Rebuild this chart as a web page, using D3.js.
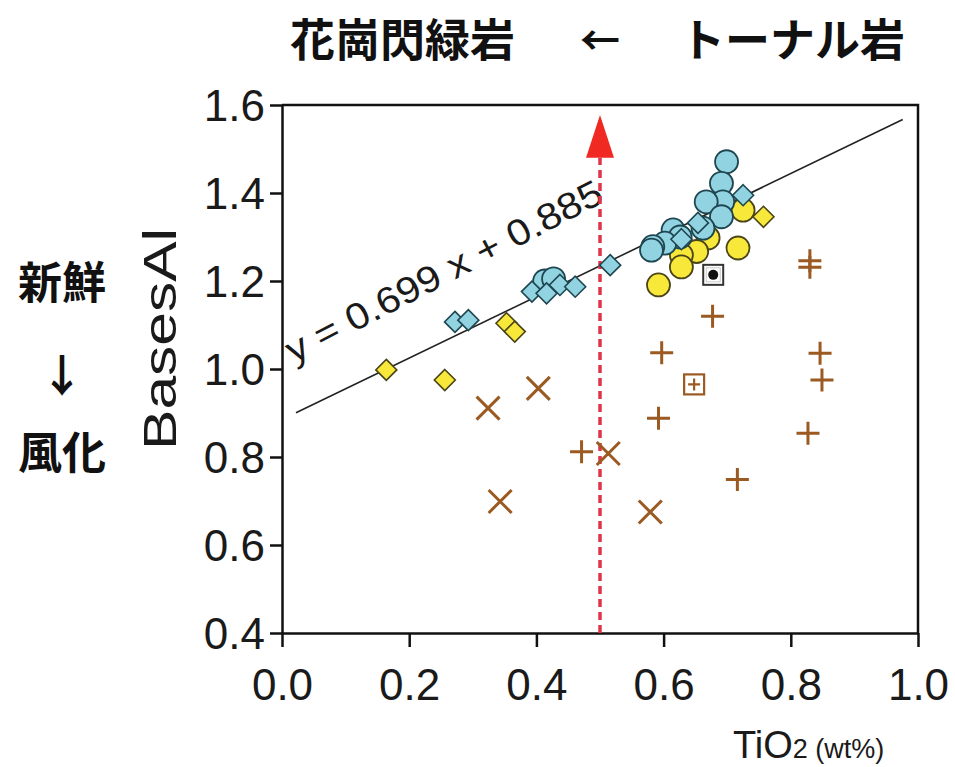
<!DOCTYPE html>
<html>
<head>
<meta charset="utf-8">
<script src="https://cdn.jsdelivr.net/npm/d3@7"></script>
<style>
    body { margin: 0; background: #fff; }
    svg text { font-family: "Liberation Sans", Arial, sans-serif; }
    .jp { font-family: "Noto Sans CJK JP", sans-serif; font-weight: bold; }
</style>
</head>
<body>
<div class="chart"></div>
<script>
// TiO2 (wt%) vs BasesAl
const blueCircles = [
    [0.699, 1.471], [0.691, 1.422], [0.693, 1.380], [0.667, 1.380], [0.691, 1.346],
    [0.662, 1.320], [0.615, 1.316], [0.626, 1.300], [0.602, 1.286], [0.583, 1.278],
    [0.581, 1.270], [0.413, 1.200], [0.427, 1.205]
];
const blueDiamonds = [
    [0.725, 1.395], [0.654, 1.332], [0.628, 1.295], [0.516, 1.236], [0.272, 1.107],
    [0.293, 1.111], [0.393, 1.176], [0.416, 1.172], [0.437, 1.191], [0.461, 1.187]
];
const yellowCircles = [
    [0.725, 1.361], [0.670, 1.298], [0.652, 1.267], [0.628, 1.259], [0.628, 1.232],
    [0.717, 1.275], [0.592, 1.191]
];
const yellowDiamonds = [
    [0.757, 1.346], [0.353, 1.104], [0.366, 1.085], [0.164, 0.998], [0.256, 0.975]
];
const crosses = [
    [0.324, 0.911], [0.403, 0.956], [0.513, 0.808], [0.343, 0.699], [0.579, 0.675]
];
const pluses = [
    [0.471, 0.812], [0.830, 1.246], [0.830, 1.231], [0.677, 1.120], [0.597, 1.037],
    [0.592, 0.888], [0.846, 1.036], [0.849, 0.975], [0.827, 0.854], [0.716, 0.749]
];
const dotSquares = [[0.678, 1.214]];
const plusSquares = [[0.648, 0.965]];

const xTicks = [0.0, 0.2, 0.4, 0.6, 0.8, 1.0];
const yTicks = [0.4, 0.6, 0.8, 1.0, 1.2, 1.4, 1.6];
const slope = 0.699, intercept = 0.885;
const fitRange = [0.022, 0.976];
const arrowX = 0.5, arrowBase = 1.48, arrowTip = 1.577;

const width = 955, height = 767;
const plot = { left: 282, right: 918, top: 105, bottom: 633 };

const svg = d3.select(".chart").append("svg")
    .attr("width", width)
    .attr("height", height);

const x = d3.scaleLinear().domain([0, 1]).range([plot.left, plot.right]);
const y = d3.scaleLinear().domain([0.4, 1.6]).range([plot.bottom, plot.top]);

// frame top + right
svg.append("path")
    .attr("d", `M${plot.left},${plot.top}H${plot.right}V${plot.bottom}`)
    .attr("fill", "none")
    .attr("stroke", "#111")
    .attr("stroke-width", 2.5);

const xAxis = svg.append("g")
    .attr("transform", `translate(0,${plot.bottom})`)
    .call(d3.axisBottom(x).tickValues(xTicks).tickFormat(d3.format(".1f")).tickSize(14).tickSizeOuter(0).tickPadding(22));

const yAxis = svg.append("g")
    .attr("transform", `translate(${plot.left},0)`)
    .call(d3.axisLeft(y).tickValues(yTicks).tickFormat(d3.format(".1f")).tickSize(12).tickSizeOuter(0).tickPadding(5));

[xAxis, yAxis].forEach(g => {
    g.select(".domain").attr("stroke", "#111").attr("stroke-width", 2.5);
    g.selectAll(".tick line").attr("stroke", "#111").attr("stroke-width", 2.5);
    g.selectAll(".tick text")
        .attr("fill", "#1a1a1a")
        .style("font-family", "'Liberation Sans', Arial, sans-serif")
        .style("font-size", "44px");
});
yAxis.selectAll(".tick text").attr("dy", "0.36em");

// axis titles
svg.append("text")
    .attr("transform", `translate(176,${(plot.top + plot.bottom) / 2 - 30}) rotate(-90)`)
    .attr("text-anchor", "middle")
    .attr("fill", "#1a1a1a")
    .attr("textLength", 222)
    .attr("lengthAdjust", "spacingAndGlyphs")
    .style("font-size", "47px")
    .text("BasesAl");

const xTitle = svg.append("text")
    .attr("x", 733)
    .attr("y", 758)
    .attr("fill", "#1a1a1a")
    .style("font-size", "38px");
xTitle.append("tspan").text("TiO");
xTitle.append("tspan").style("font-size", "27px").text("2 (wt%)");

// regression line
const line = d3.line().x(d => x(d)).y(d => y(slope * d + intercept));
svg.append("path")
    .datum(fitRange)
    .attr("d", line)
    .attr("stroke", "#222")
    .attr("stroke-width", 1.6)
    .attr("fill", "none");

svg.append("text")
    .attr("transform", `translate(${x(0.018)},${y(1.012)}) rotate(-27.5)`)
    .attr("fill", "#1a1a1a")
    .attr("textLength", 352)
    .attr("lengthAdjust", "spacingAndGlyphs")
    .style("font-size", "37px")
    .text("y = 0.699 x + 0.885");

// red dashed arrow
svg.append("line")
    .attr("x1", x(arrowX)).attr("x2", x(arrowX))
    .attr("y1", y(0.4)).attr("y2", y(arrowBase))
    .attr("stroke", "#e0344a")
    .attr("stroke-width", 3.5)
    .attr("stroke-dasharray", "8,5");

svg.append("path")
    .attr("d", `M${x(arrowX)},${y(arrowTip)}L${x(arrowX) + 14},${y(arrowBase)}L${x(arrowX) - 14},${y(arrowBase)}Z`)
    .attr("fill", "#f02a22");

// markers
const blueFill = "#92d3e2", blueStroke = "#1e4650";
const yellowFill = "#f7e83a", yellowStroke = "#4a4418";
const brown = "#9a5a22";

function drawCircles(data, fill, stroke) {
    svg.append("g").selectAll("circle")
        .data(data).join("circle")
        .attr("cx", d => x(d[0]))
        .attr("cy", d => y(d[1]))
        .attr("r", 11.5)
        .attr("fill", fill)
        .attr("stroke", stroke)
        .attr("stroke-width", 1.8);
}

function drawDiamonds(data, fill, stroke) {
    const s = 10.5;
    svg.append("g").selectAll("path")
        .data(data).join("path")
        .attr("d", d => {
            const cx = x(d[0]), cy = y(d[1]);
            return `M${cx},${cy - s}L${cx + s},${cy}L${cx},${cy + s}L${cx - s},${cy}Z`;
        })
        .attr("fill", fill)
        .attr("stroke", stroke)
        .attr("stroke-width", 1.6);
}

function drawGlyph(data, pathFn, color) {
    svg.append("g").selectAll("path")
        .data(data).join("path")
        .attr("d", d => pathFn(x(d[0]), y(d[1])))
        .attr("fill", "none")
        .attr("stroke", color)
        .attr("stroke-width", 3);
}

drawCircles(yellowCircles, yellowFill, yellowStroke);
drawCircles(blueCircles, blueFill, blueStroke);
drawDiamonds(yellowDiamonds, yellowFill, yellowStroke);
drawDiamonds(blueDiamonds, blueFill, blueStroke);

drawGlyph(crosses, (cx, cy) => {
    const s = 11.5;
    return `M${cx - s},${cy - s}L${cx + s},${cy + s}M${cx - s},${cy + s}L${cx + s},${cy - s}`;
}, brown);

drawGlyph(pluses, (cx, cy) => {
    const s = 11.5;
    return `M${cx - s},${cy}H${cx + s}M${cx},${cy - s}V${cy + s}`;
}, brown);

// square + plus
const ps = svg.append("g").selectAll("g").data(plusSquares).join("g")
    .attr("transform", d => `translate(${x(d[0])},${y(d[1])})`);
ps.append("rect").attr("x", -10).attr("y", -10).attr("width", 20).attr("height", 20)
    .attr("fill", "#fff").attr("stroke", brown).attr("stroke-width", 2.2);
ps.append("path").attr("d", "M-6,0H6M0,-6V6").attr("stroke", brown).attr("stroke-width", 2.2);

// square + dot
const ds = svg.append("g").selectAll("g").data(dotSquares).join("g")
    .attr("transform", d => `translate(${x(d[0])},${y(d[1])})`);
ds.append("rect").attr("x", -10).attr("y", -10).attr("width", 20).attr("height", 20)
    .attr("fill", "#fff").attr("stroke", "#333").attr("stroke-width", 2);
ds.append("rect").attr("x", -7).attr("y", -7).attr("width", 14).attr("height", 14)
    .attr("fill", "#fff").attr("stroke", "#bbb").attr("stroke-width", 0.8);
ds.append("circle").attr("r", 5).attr("fill", "#111");

// Japanese annotations
svg.append("text").attr("class", "jp")
    .attr("x", 290).attr("y", 57)
    .attr("fill", "#111")
    .style("font-size", "45px")
    .text("花崗閃緑岩");
svg.append("text").attr("class", "jp")
    .attr("x", 600).attr("y", 55)
    .attr("text-anchor", "middle")
    .attr("fill", "#111")
    .style("font-size", "40px")
    .text("←");
svg.append("text").attr("class", "jp")
    .attr("x", 680).attr("y", 57)
    .attr("fill", "#111")
    .style("font-size", "45px")
    .text("トーナル岩");

const sideLabels = [["新鮮", 299], ["↓", 392], ["風化", 469]];
svg.append("g").selectAll("text")
    .data(sideLabels).join("text")
    .attr("class", "jp")
    .attr("x", 62)
    .attr("y", d => d[1])
    .attr("text-anchor", "middle")
    .attr("fill", "#111")
    .style("font-size", "44px")
    .text(d => d[0]);
</script>
</body>
</html>
